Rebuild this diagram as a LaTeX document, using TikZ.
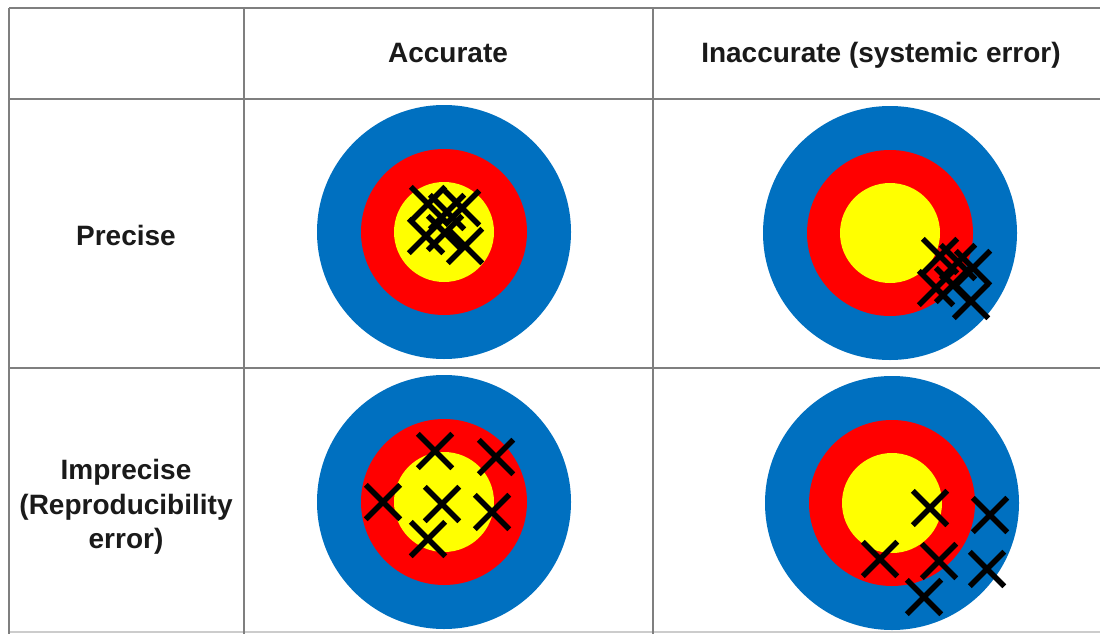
\documentclass[tikz,border=0pt]{standalone}
\usepackage{fontspec}
\setmainfont{Liberation Sans}
\usetikzlibrary{shapes.misc}
\definecolor{tblue}{HTML}{0070C0}
\definecolor{tred}{HTML}{FF0000}
\definecolor{tyellow}{HTML}{FFFF00}
\definecolor{gridgray}{HTML}{7F7F7F}
\definecolor{txt}{HTML}{1A1A1A}
\begin{document}
\begin{tikzpicture}[x=1pt,y=-1pt,
  gridline/.style={draw=gridgray, line width=2pt},
  lbl/.style={font=\fontsize{28}{34.5}\selectfont\bfseries, text=txt, align=center, inner sep=0pt},
  hit/.style={cross out, draw=black, line width=5.5pt, minimum size=29pt, inner sep=0pt}]
\useasboundingbox (0,0) rectangle (1100,634);
\fill[white] (0,0) rectangle (1100,634);
% grid
\draw[gridline] (9,8) -- (1100,8);
\draw[gridline] (9,99) -- (1100,99);
\draw[gridline] (9,368) -- (1100,368);
\draw[draw=gridgray!40, line width=1.5pt] (9,632) -- (1100,632);
\draw[gridline] (9,8) -- (9,634);
\draw[gridline] (244,8) -- (244,634);
\draw[gridline] (653,8) -- (653,634);
% headers
\node[lbl, anchor=base] (hAcc) at (448,63) {Accurate};
\node[lbl, anchor=base] (hInacc) at (881,63) {Inaccurate (systemic error)};
\node[lbl, anchor=base] (rPrec) at (126,245) {Precise};
\node[lbl] (rImp) at (126,507) {Imprecise\\(Reproducibility\\error)};
% targets
\foreach \cx/\cy in {444/232, 890/233, 444/502, 892/503} {
  \fill[tblue] (\cx,\cy) circle[radius=127pt];
  \fill[tred] (\cx,\cy) circle[radius=83pt];
  \fill[tyellow] (\cx,\cy) circle[radius=50pt];
}
% hits: accurate & precise
\foreach \x/\y [count=\i] in {428/204, 447/212, 462/208, 426/236, 445/233, 465/246}
  \node[hit] (ap\i) at (\x,\y) {};
% hits: inaccurate & precise
\foreach \x/\y [count=\i] in {940/256, 958/262, 973/268, 936/288, 953/285, 971/301}
  \node[hit] (ip\i) at (\x,\y) {};
% hits: accurate & imprecise
\foreach \x/\y [count=\i] in {435/451, 496/457, 383/502, 442/504, 492/512, 428/539}
  \node[hit] (ai\i) at (\x,\y) {};
% hits: inaccurate & imprecise
\foreach \x/\y [count=\i] in {930/508, 990/515, 880/559, 939/561, 987/569, 924/597}
  \node[hit] (ii\i) at (\x,\y) {};
\end{tikzpicture}
\end{document}
